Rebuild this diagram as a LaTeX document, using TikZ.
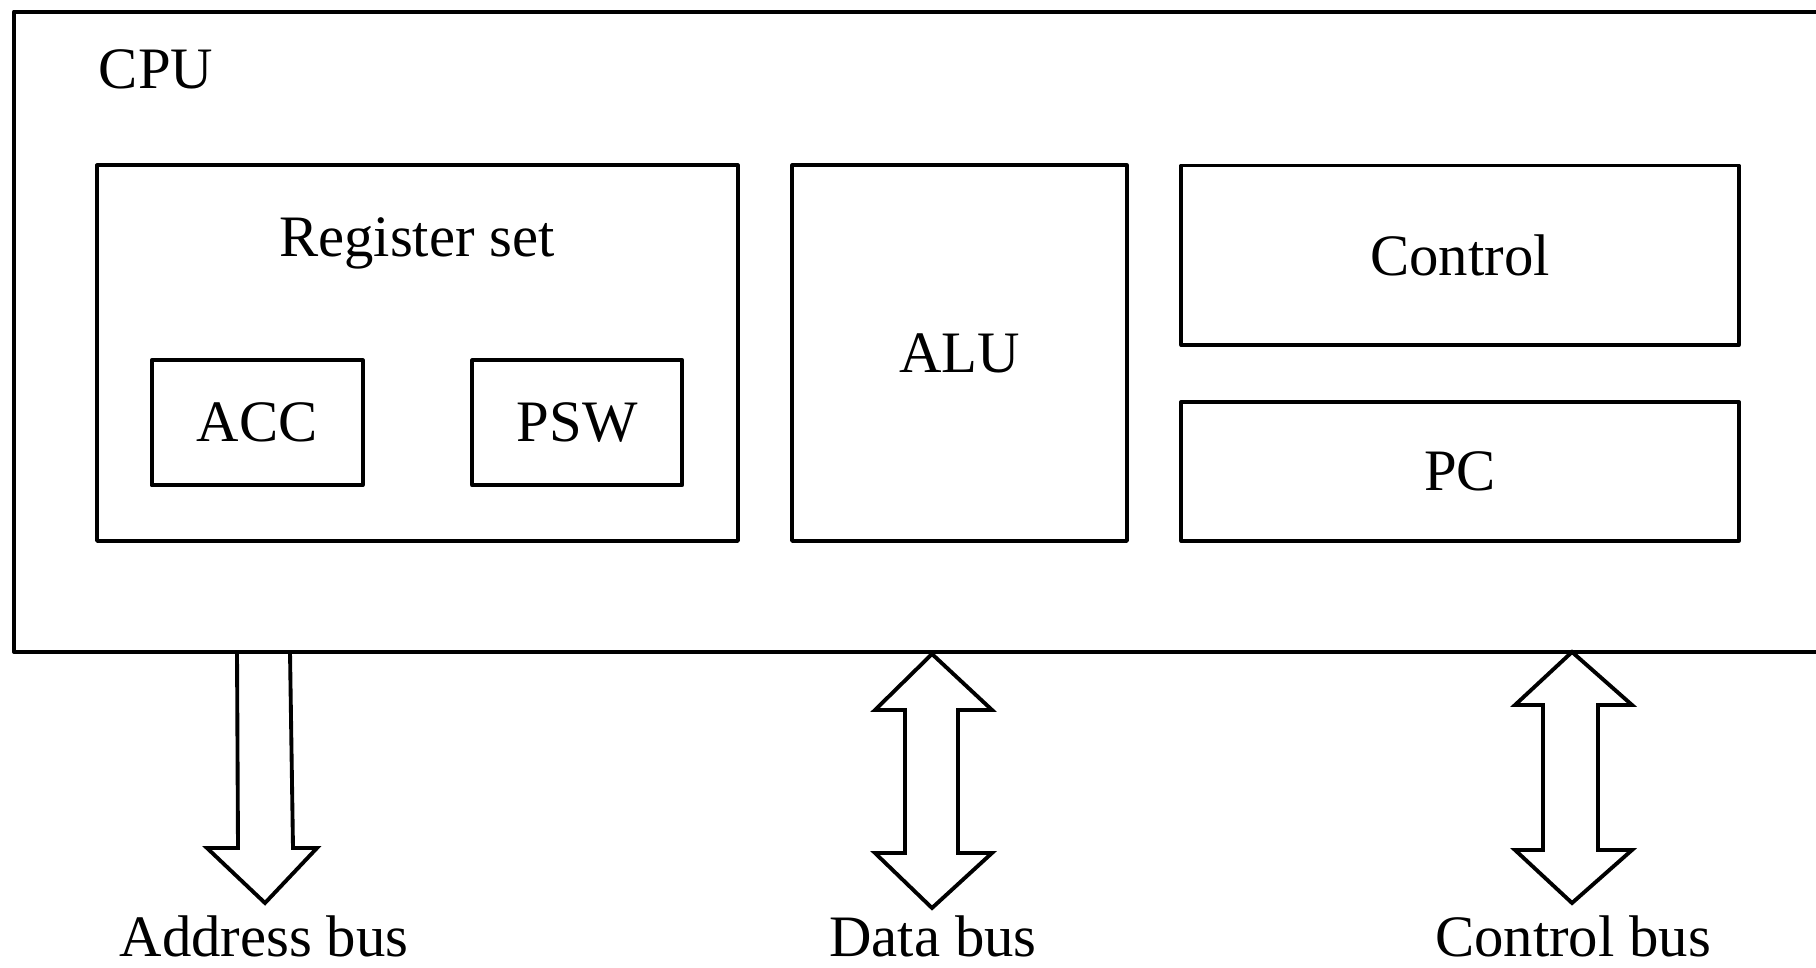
\documentclass[tikz,border=0pt]{standalone}
\usepackage{fontspec}
\setmainfont{Liberation Serif}
\begin{document}
\begin{tikzpicture}[x=0.01cm,y=-0.01cm,line width=1.1pt,
  box/.style={draw,inner sep=0pt,line join=round},
  bus/.style={draw,line join=miter},
  lbl/.style={font=\fontsize{16.7}{20}\selectfont}]
\useasboundingbox (0,0) rectangle (1816,968);
% CPU frame, open to the right
\draw[line join=round] (1830,11.6) -- (13.9,11.6) -- (13.9,652) -- (1830,652);
\node[lbl,anchor=west,inner sep=0pt] (cpu) at (97,69.5) {CPU};
% register set
\node[box,minimum width=6.405cm,minimum height=3.753cm] (regset) at (417.5,353.2) {};
\node[lbl] (regname) at (417,243) {Register set};
\node[box,lbl,minimum width=2.108cm,minimum height=1.251cm] (acc) at (257.1,422.7) {ACC};
\node[box,lbl,minimum width=2.097cm,minimum height=1.251cm] (psw) at (577.3,422.7) {PSW};
% ALU
\node[box,lbl,minimum width=3.347cm,minimum height=3.753cm] (alu) at (959.5,353.2) {ALU};
% control and PC
\node[box,lbl,minimum width=5.571cm,minimum height=1.795cm] (ctrl) at (1460,255.3) {Control};
\node[box,lbl,minimum width=5.571cm,minimum height=1.39cm] (pc) at (1460,471.4) {PC};
% buses
\draw[bus] (237,652) -- (238,848) -- (207,848) -- (265,903) -- (317,848) -- (293,848) -- (290,652);
\draw[bus] (932,654) -- (992,710) -- (958,710) -- (958,853) -- (992,853) -- (932,908)
  -- (875,853) -- (905,853) -- (905,710) -- (875,710) -- cycle;
\draw[bus] (1572,652) -- (1632,705) -- (1598,705) -- (1598,850) -- (1632,850) -- (1572,903)
  -- (1515,850) -- (1543,850) -- (1543,705) -- (1515,705) -- cycle;
\node[lbl,anchor=base,inner sep=0pt] (addrbus) at (264,956) {Address bus};
\node[lbl,anchor=base,inner sep=0pt] (databus) at (933,956) {Data bus};
\node[lbl,anchor=base,inner sep=0pt] (ctrlbus) at (1573,956) {Control bus};
\end{tikzpicture}
\end{document}
